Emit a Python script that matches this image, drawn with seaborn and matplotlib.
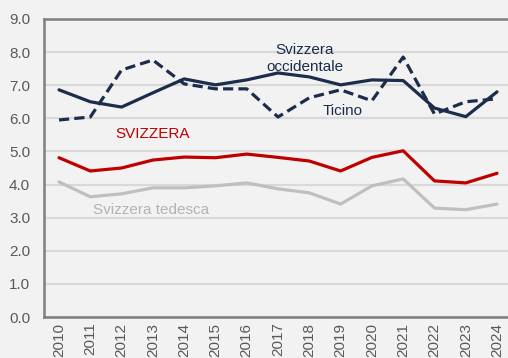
import matplotlib
matplotlib.use("Agg")
import matplotlib.pyplot as plt
import seaborn as sns
import pandas as pd

years = list(range(2010, 2025))
svizzera = [4.81, 4.41, 4.50, 4.74, 4.83, 4.81, 4.92, 4.82, 4.71, 4.41, 4.82, 5.02, 4.11, 4.05, 4.34]
svizzera_tedesca = [4.08, 3.63, 3.72, 3.90, 3.90, 3.96, 4.05, 3.87, 3.75, 3.41, 3.96, 4.17, 3.29, 3.24, 3.41]
svizzera_occidentale = [6.86, 6.50, 6.34, 6.77, 7.19, 7.01, 7.16, 7.37, 7.25, 7.01, 7.16, 7.14, 6.31, 6.05, 6.80]
ticino = [5.95, 6.04, 7.46, 7.76, 7.04, 6.89, 6.89, 6.04, 6.62, 6.86, 6.53, 7.85, 6.13, 6.50, 6.59]
y_ticks = [0.0, 1.0, 2.0, 3.0, 4.0, 5.0, 6.0, 7.0, 8.0, 9.0]

series = {
    "Svizzera tedesca": svizzera_tedesca,
    "SVIZZERA": svizzera,
    "Svizzera occidentale": svizzera_occidentale,
    "Ticino": ticino,
}
df = pd.concat(
    [pd.DataFrame({"anno": [str(y) for y in years], "valore": v, "regione": k}) for k, v in series.items()],
    ignore_index=True,
)

palette = {
    "Svizzera tedesca": "#bfbfbf",
    "SVIZZERA": "#c00000",
    "Svizzera occidentale": "#1b2d4a",
    "Ticino": "#1b2d4a",
}
dashes = {
    "Svizzera tedesca": "",
    "SVIZZERA": "",
    "Svizzera occidentale": "",
    "Ticino": (3.2, 1.6),
}

sns.set_theme(style="white")
plt.rcParams["font.family"] = ["Liberation Sans Narrow", "Liberation Sans", "DejaVu Sans"]

bg = "#f2f2f2"
fig = plt.figure(figsize=(5.08, 3.58), dpi=100, facecolor=bg)
ax = fig.add_axes([0.0866, 0.1145, 0.9134, 0.8325], facecolor=bg)

sns.lineplot(
    data=df, x="anno", y="valore", hue="regione", style="regione",
    palette=palette, dashes=dashes, linewidth=2.3, legend=False, ax=ax, sort=False,
)

ax.set_ylim(0, 9)
ax.set_xlim(-0.48, 14.35)
ax.set_yticks(y_ticks)
ax.set_yticklabels([f"{t:.1f}" for t in y_ticks])
ax.set_xlabel("")
ax.set_ylabel("")
ax.grid(axis="y", color="#d9d9d9", linewidth=1.6)
ax.set_axisbelow(True)

for side in ["left", "top", "bottom"]:
    ax.spines[side].set_color("#7f7f7f")
    ax.spines[side].set_linewidth(1.8)
ax.spines["right"].set_visible(False)

ax.tick_params(axis="both", colors="#595959", labelsize=11, length=0, pad=4)
ax.tick_params(axis="y", pad=10)
plt.setp(ax.get_xticklabels(), rotation=90)

ax.text(7.85, 7.8, "Svizzera\noccidentale", color="#1b2d4a", fontsize=11,
        ha="center", va="center", linespacing=1.3)
ax.text(9.05, 6.22, "Ticino", color="#1b2d4a", fontsize=11, ha="center", va="center")
ax.text(3.0, 5.53, "SVIZZERA", color="#c00000", fontsize=11, ha="center", va="center")
ax.text(2.95, 3.22, "Svizzera tedesca", color="#b3b3b3", fontsize=11, ha="center", va="center")

fig.savefig("out.png", dpi=100, facecolor=bg)
